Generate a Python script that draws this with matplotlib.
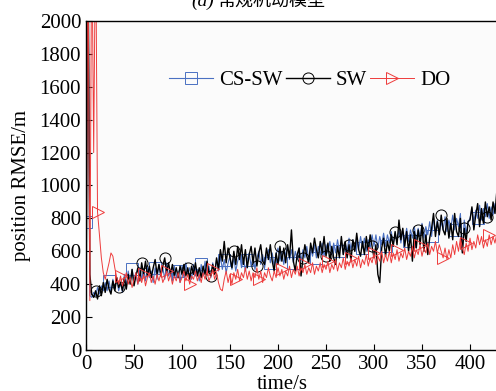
import numpy as np
import matplotlib
matplotlib.use('Agg')
import matplotlib.pyplot as plt

plt.rcParams['font.family'] = ['Liberation Serif', 'Noto Sans CJK SC']

# RMSE values, one sample every 2 s
cs_sw = [780, 2600, 330, 320, 350, 330, 380, 340, 390, 360,
         410, 360, 420, 350, 430, 370, 440, 360, 410, 350,
         460, 390, 480, 410, 490, 420, 470, 400, 500, 430,
         490, 420, 510, 440, 480, 410, 500, 430, 520, 450,
         500, 430, 530, 450, 490, 420, 510, 440, 480, 410,
         510, 440, 530, 460, 500, 430, 520, 450, 490, 420,
         520, 450, 540, 460, 510, 440, 530, 470, 550, 480,
         570, 490, 550, 470, 530, 570, 490, 560, 480, 540,
         580, 500, 560, 480, 550, 590, 510, 570, 490, 560,
         600, 520, 580, 500, 570, 610, 530, 590, 510, 580,
         620, 540, 600, 520, 590, 630, 550, 610, 530, 600,
         550, 620, 540, 610, 560, 630, 550, 620, 570, 640,
         560, 630, 580, 650, 570, 640, 590, 660, 580, 650,
         590, 670, 600, 660, 580, 650, 600, 680, 610, 670,
         600, 680, 610, 690, 620, 680, 600, 670, 620, 700,
         630, 700, 620, 690, 640, 710, 630, 700, 650, 720,
         640, 710, 660, 730, 650, 720, 670, 740, 660, 730,
         680, 750, 670, 740, 690, 770, 680, 750, 700, 780,
         690, 800, 720, 790, 710, 780, 730, 810, 720, 790,
         740, 820, 730, 800, 750, 830, 600, 790, 710, 780,
         800, 860, 780, 850, 800, 880, 790, 860, 810, 890,
         800, 870, 820, 890, 810, 880]

sw = [40, 2600, 460, 340, 320, 360, 310, 390, 330, 410,
      350, 430, 370, 340, 420, 360, 440, 380, 410, 360,
      440, 370, 460, 400, 490, 390, 450, 500, 420, 530,
      460, 540, 450, 510, 440, 500, 550, 460, 520, 450,
      510, 560, 470, 530, 460, 520, 450, 500, 440, 510,
      460, 520, 450, 500, 430, 510, 460, 530, 450, 500,
      440, 510, 460, 540, 470, 450, 520, 460, 560, 490,
      610, 540, 660, 530, 620, 560, 500, 600, 520, 630,
      550, 640, 520, 610, 500, 580, 630, 530, 620, 510,
      590, 640, 540, 520, 620, 550, 640, 540, 480, 590,
      520, 630, 540, 620, 530, 640, 560, 730, 540, 480,
      580, 620, 450, 560, 640, 570, 530, 650, 590, 680,
      610, 560, 660, 590, 690, 570, 650, 540, 630, 560,
      520, 630, 560, 690, 580, 660, 560, 640, 540, 670,
      600, 710, 610, 570, 660, 580, 690, 600, 700, 630,
      560, 640, 460, 410, 620, 680, 570, 660, 600, 700,
      630, 720, 640, 790, 670, 740, 630, 720, 600, 700,
      540, 720, 620, 730, 640, 760, 600, 700, 580, 680,
      740, 830, 690, 780, 700, 820, 730, 700, 800, 680,
      770, 670, 830, 720, 690, 800, 590, 740, 660, 780,
      790, 870, 730, 820, 890, 750, 860, 770, 900, 810,
      870, 790, 900, 830, 970, 870]

do = [0, 2600, 300, 2600, 1200, 2600, 840, 700, 560, 470,
      430, 480, 530, 590, 570, 500, 440, 400, 450, 390,
      430, 470, 400, 440, 380, 430, 470, 400, 450, 410,
      460, 390, 440, 470, 410, 450, 400, 460, 420, 470,
      410, 440, 480, 420, 460, 400, 450, 420, 470, 410,
      440, 480, 420, 460, 400, 450, 430, 480, 420, 460,
      410, 470, 430, 480, 420, 450, 490, 430, 470, 410,
      370, 360, 430, 480, 410, 460, 400, 470, 430, 490,
      420, 470, 440, 500, 430, 480, 420, 470, 440, 500,
      430, 480, 410, 470, 440, 500, 450, 420, 480, 440,
      500, 450, 490, 430, 480, 450, 510, 440, 490, 460,
      510, 450, 500, 470, 520, 460, 500, 470, 530, 460,
      510, 480, 530, 470, 520, 490, 540, 470, 520, 490,
      550, 480, 530, 500, 560, 490, 540, 510, 560, 500,
      550, 510, 570, 500, 550, 520, 580, 510, 560, 530,
      590, 520, 570, 540, 600, 530, 580, 540, 600, 530,
      590, 550, 610, 540, 590, 560, 620, 550, 600, 570,
      630, 560, 610, 580, 640, 570, 620, 590, 650, 580,
      630, 600, 660, 590, 640, 600, 560, 620, 550, 610,
      560, 640, 580, 660, 600, 680, 620, 580, 650, 600,
      680, 610, 660, 620, 700, 640, 690, 620, 670, 630,
      700, 640, 690, 650, 710, 660]

x_ticks = [0, 50, 100, 150, 200, 250, 300, 350, 400]
y_ticks = [0, 200, 400, 600, 800, 1000, 1200, 1400, 1600, 1800, 2000]

fig = plt.figure(figsize=(4.96, 3.91), dpi=100)
ax = fig.add_axes([86 / 496, 41 / 391, 480 / 496, 329 / 391])
ax.set_facecolor('#fbfbfb')

series = [
    (cs_sw, '#4a70c2', 's', 'CS-SW', 0, 0.8),
    (sw, 'black', 'o', 'SW', 5, 1.0),
    (do, '#ee3c3c', '>', 'DO', 6, 0.7),
]
for vals, col, mk, lab, off, lw in series:
    t = np.arange(len(vals)) * 2
    ax.plot(t, vals, color=col, lw=lw, marker=mk, markersize=8,
            markerfacecolor='none', markeredgewidth=0.7,
            markevery=(off, 12), label=lab)

ax.set_xlim(0, 500)
ax.set_ylim(0, 2000)
ax.set_xticks(x_ticks)
ax.set_yticks(y_ticks)
ax.tick_params(direction='in', labelsize=15, length=4)
for s in ax.spines.values():
    s.set_linewidth(1.0)

ax.set_xlabel('time/s', fontsize=15, labelpad=2)
ax.xaxis.set_label_coords(196 / 480, -0.075)
ax.set_ylabel('position RMSE/m', fontsize=15, labelpad=6)

fig.legend(loc='center', bbox_to_anchor=(0.625, 0.795), ncol=3, frameon=False,
           fontsize=15, handlelength=2.1, handletextpad=0.3, columnspacing=0.15)

fig.text(214 / 496, 1 - 6 / 391, '(a)', fontsize=14, style='italic',
         ha='right', va='baseline')
fig.text(217 / 496, 1 - 6 / 391, '常规机动模型', fontsize=13,
         ha='left', va='baseline')

fig.savefig('out.png', dpi=100)
